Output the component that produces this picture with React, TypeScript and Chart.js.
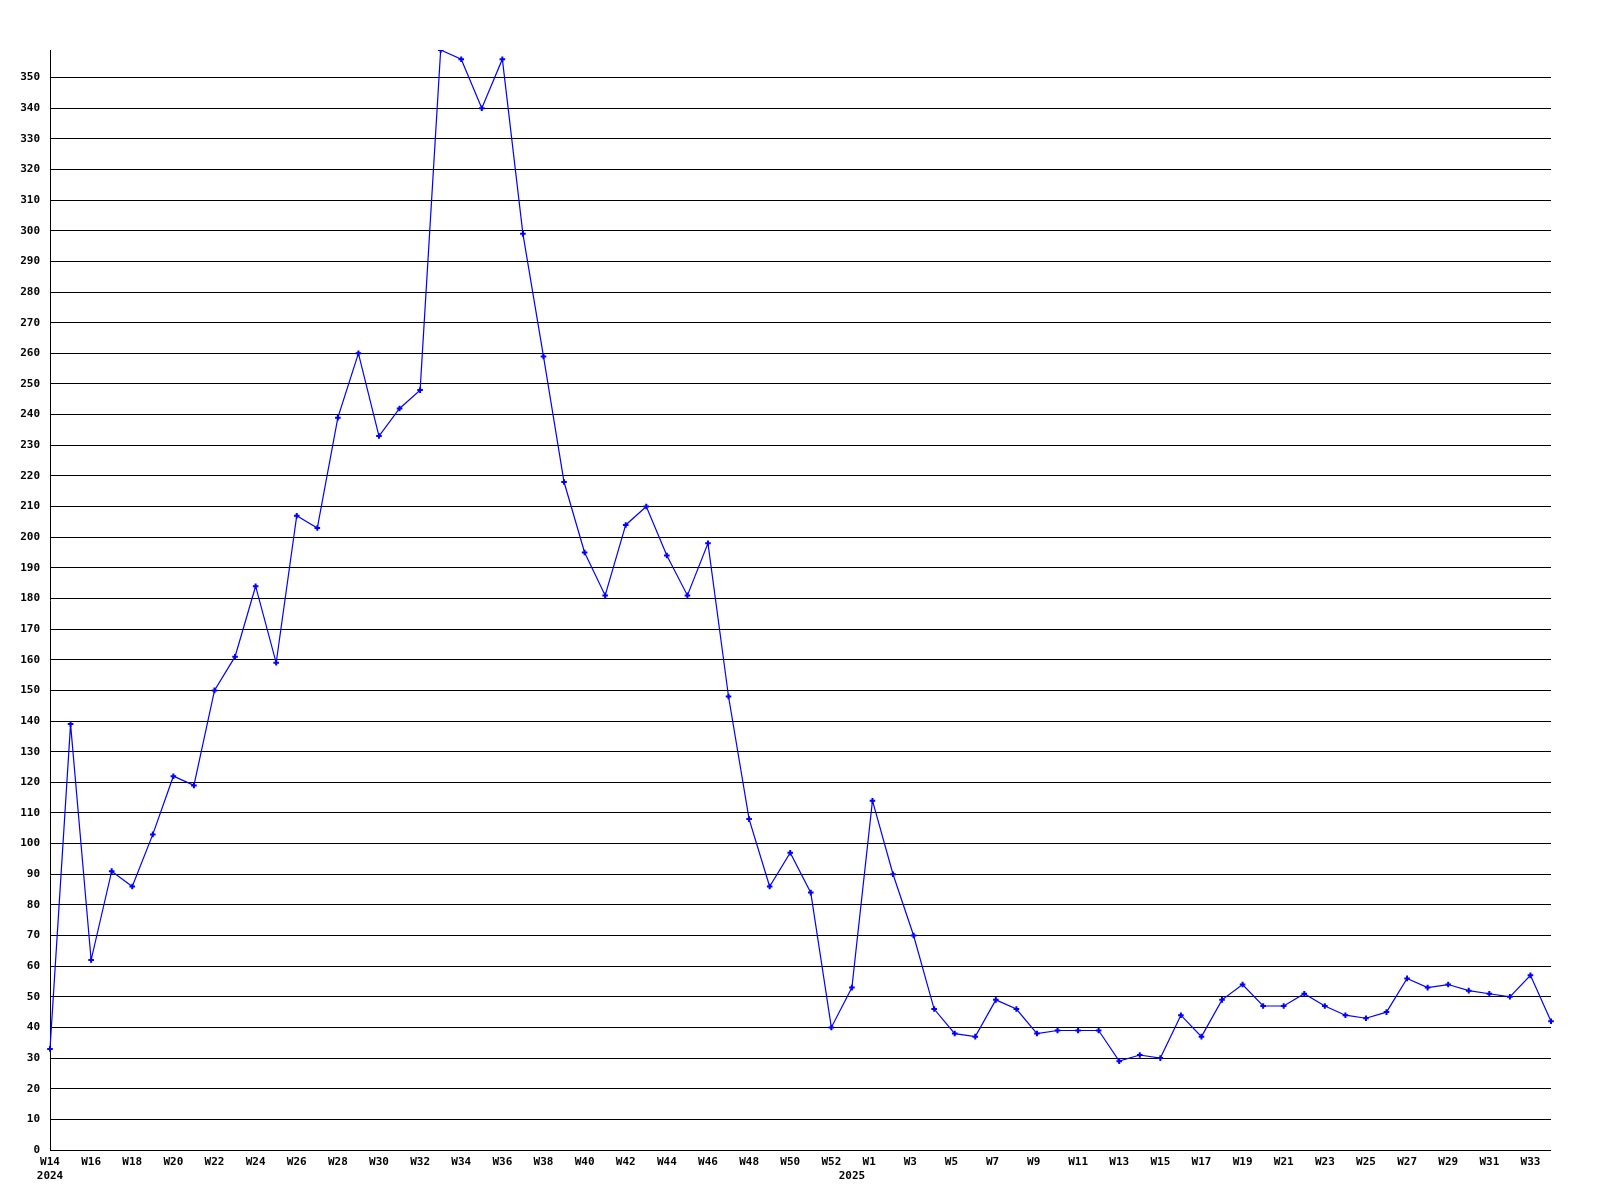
import React, { useEffect, useRef } from "react";
import { Chart, registerables } from "chart.js";

Chart.register(...registerables);

const weekLabels = [
  "W14", "W15", "W16", "W17", "W18", "W19", "W20", "W21", "W22", "W23",
  "W24", "W25", "W26", "W27", "W28", "W29", "W30", "W31", "W32", "W33",
  "W34", "W35", "W36", "W37", "W38", "W39", "W40", "W41", "W42", "W43",
  "W44", "W45", "W46", "W47", "W48", "W49", "W50", "W51", "W52", "W53",
  "W1", "W2", "W3", "W4", "W5", "W6", "W7", "W8", "W9", "W10",
  "W11", "W12", "W13", "W14", "W15", "W16", "W17", "W18", "W19", "W20",
  "W21", "W22", "W23", "W24", "W25", "W26", "W27", "W28", "W29", "W30",
  "W31", "W32", "W33", "W34",
];

const yearLabels = ["2024", "2025"];
const yearLabelIndex = [0, 39];

const weeklyValues = [
  33, 139, 62, 91, 86, 103, 122, 119, 150, 161,
  184, 159, 207, 203, 239, 260, 233, 242, 248, 359,
  356, 340, 356, 299, 259, 218, 195, 181, 204, 210,
  194, 181, 198, 148, 108, 86, 97, 84, 40, 53,
  114, 90, 70, 46, 38, 37, 49, 46, 38, 39,
  39, 39, 29, 31, 30, 44, 37, 49, 54, 47,
  47, 51, 47, 44, 43, 45, 56, 53, 54, 52,
  51, 50, 57, 42,
];

const yStep = 10;

export default function App() {
  const canvasRef = useRef<HTMLCanvasElement | null>(null);

  useEffect(() => {
    const canvas = canvasRef.current;
    if (!canvas) return;
    const tickFont = {
      family: "'DejaVu Sans Mono', monospace",
      size: 11,
      weight: "bold" as const,
      lineHeight: "14px",
    };
    const chart = new Chart(canvas, {
      type: "line",
      data: {
        labels: weekLabels,
        datasets: [
          {
            data: weeklyValues,
            borderColor: "#0000ff",
            backgroundColor: "#0000ff",
            borderWidth: 1.2,
            tension: 0,
            fill: false,
            pointStyle: "cross",
            pointRadius: 2.8,
            pointBorderWidth: 2,
            pointBorderColor: "#0000ff",
            pointBackgroundColor: "#0000ff",
          },
        ],
      },
      options: {
        responsive: false,
        animation: false,
        devicePixelRatio: 1,
        layout: { padding: { left: 0, top: 50, right: 49, bottom: 0 } },
        plugins: {
          legend: { display: false },
          tooltip: { enabled: false },
          title: { display: false },
        },
        scales: {
          x: {
            type: "category",
            offset: false,
            grid: { display: false, drawTicks: false },
            border: { display: false },
            afterFit: (scale: any) => {
              scale.height = 50;
            },
            ticks: {
              autoSkip: false,
              maxRotation: 0,
              minRotation: 0,
              padding: 5,
              color: "#000000",
              font: tickFont,
              callback: (_value: any, index: number) => {
                const wk = index % 2 === 0 ? weekLabels[index].padEnd(3, " ") : "";
                const yi = yearLabelIndex.indexOf(index);
                if (yi >= 0) return [wk, yearLabels[yi]];
                return wk === "" ? null : wk;
              },
            },
          },
          y: {
            type: "linear",
            min: 0,
            max: Math.max(...weeklyValues),
            afterFit: (scale: any) => {
              scale.width = 50;
            },
            grid: {
              color: "#000000",
              lineWidth: 1,
              drawTicks: false,
            },
            border: { display: true, color: "#000000", width: 1 },
            ticks: {
              stepSize: yStep,
              includeBounds: false,
              padding: 10,
              color: "#000000",
              font: tickFont,
            },
          },
        },
      },
    });
    return () => {
      chart.destroy();
    };
  }, []);

  return (
    <div style={{ position: "absolute", left: 0, top: 0, width: 1600, height: 1200, background: "#ffffff" }}>
      <canvas ref={canvasRef} width={1600} height={1200} style={{ display: "block", width: 1600, height: 1200 }} />
    </div>
  );
}
